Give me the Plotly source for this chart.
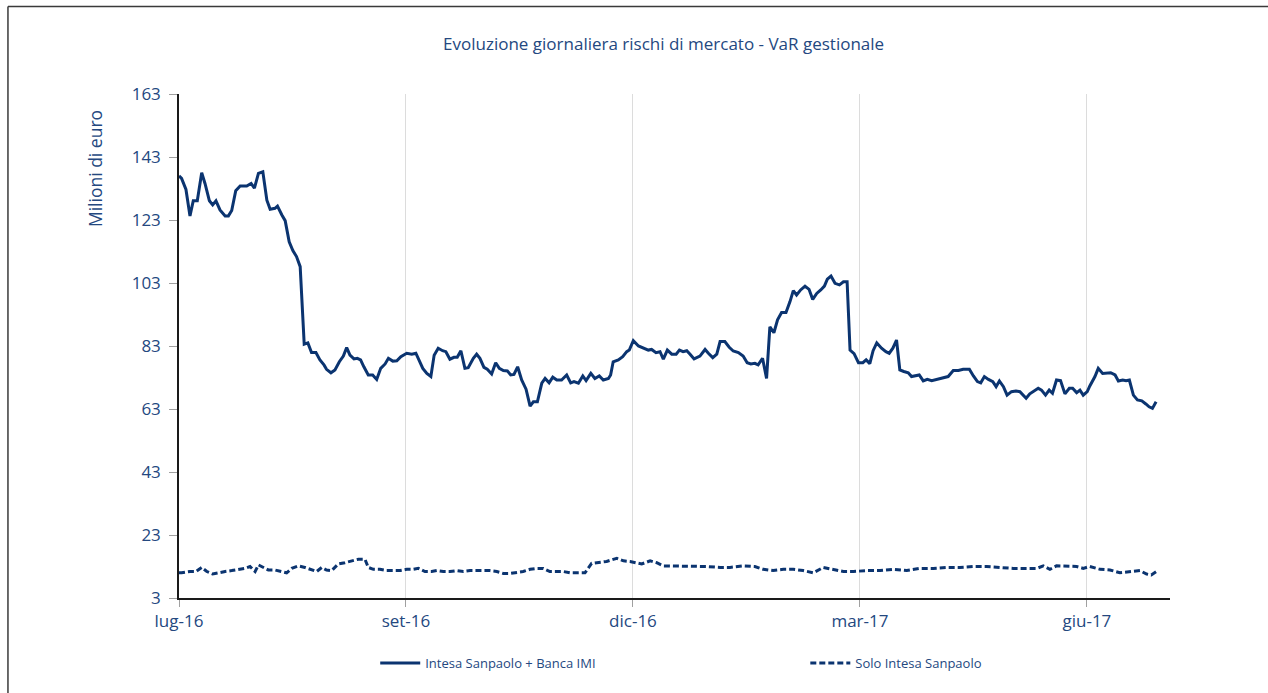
import plotly.graph_objects as go

# Category positions (trading-day index) and values
tick_idx = [0, 62, 124, 186, 248]
tick_labels = ["lug-16", "set-16", "dic-16", "mar-17", "giu-17"]
y_ticks = [3, 23, 43, 63, 83, 103, 123, 143, 163]

total_idx = [
    0.0, 0.7, 1.9, 3.0, 3.9, 5.0, 6.2, 7.1, 8.3, 9.2, 10.1, 11.2, 12.6, 13.5, 14.4, 15.5,
    16.7, 18.5, 19.7, 20.6, 21.7, 22.9, 24.0, 24.9, 26.2, 26.9, 28.1, 29.0, 30.1, 31.1,
    32.1, 33.1, 34.2, 35.2, 36.2, 37.4, 38.5, 39.6, 40.3, 41.5, 42.6, 43.8, 44.9, 45.8,
    46.7, 47.8, 48.7, 49.6, 50.5, 51.7, 52.9, 54.0, 55.1, 56.3, 57.2, 58.4, 59.5, 60.6,
    62.2, 63.6, 64.7, 66.6, 67.7, 68.8, 69.7, 70.8, 72.0, 72.9, 74.0, 75.1, 76.0, 77.0,
    78.1, 79.0, 80.4, 81.3, 82.2, 83.3, 84.2, 85.4, 86.5, 87.5, 88.6, 89.7, 90.6, 91.5,
    92.5, 93.6, 94.8, 95.9, 96.8, 97.9, 99.1, 100.0, 101.1, 102.1, 103.2, 104.5, 105.9,
    107.0, 107.9, 109.1, 110.3, 111.2, 112.5, 113.6, 114.8, 115.9, 117.3, 117.9, 118.6,
    120.0, 121.2, 122.3, 123.0, 124.1, 125.5, 126.8, 128.2, 129.1, 130.3, 131.4, 132.3,
    133.4, 134.6, 135.8, 136.7, 137.7, 138.7, 139.6, 140.7, 142.3, 143.7, 144.6, 145.8,
    146.9, 147.8, 149.1, 150.3, 151.4, 152.8, 154.1, 155.2, 156.2, 157.3, 158.2, 159.4,
    160.5, 161.4, 162.5, 163.5, 164.6, 165.8, 166.9, 167.8, 168.7, 169.8, 171.0, 172.1,
    173.1, 174.2, 175.3, 176.3, 177.1, 178.1, 179.2, 180.4, 181.5, 182.5, 183.3, 184.4,
    185.6, 186.8, 187.7, 188.7, 189.6, 190.6, 191.9, 193.1, 194.0, 195.0, 196.0, 196.9,
    198.0, 199.2, 200.1, 201.3, 202.2, 203.3, 204.4, 205.6, 206.8, 208.1, 209.2, 210.1,
    211.5, 212.9, 214.2, 215.9, 217.0, 218.1, 219.0, 220.0, 221.1, 222.3, 223.2, 224.1,
    225.2, 226.2, 227.4, 228.6, 229.7, 231.4, 232.4, 233.5, 234.7, 235.6, 236.7, 237.7,
    238.6, 239.7, 240.8, 242.0, 243.2, 244.1, 245.2, 246.1, 247.0, 248.1, 248.8, 250.2,
    251.1, 252.3, 253.4, 254.5, 255.7, 256.6, 257.8, 258.7, 259.6, 260.7, 261.8, 263.0,
    264.1, 265.0, 265.9, 266.9,
]
total_var = [
    137.0, 136.2, 132.7, 124.3, 129.1, 129.1, 138.0, 134.6, 129.1, 127.8, 129.1, 126.2,
    124.3, 124.3, 126.0, 132.3, 133.8, 133.8, 134.6, 133.1, 137.8, 138.3, 129.3, 126.4,
    126.7, 127.4, 124.6, 122.8, 116.1, 113.3, 111.4, 108.2, 83.6, 84.0, 80.9, 80.9, 78.6,
    77.0, 75.6, 74.5, 75.4, 78.0, 79.8, 82.5, 80.1, 78.9, 79.1, 78.6, 76.4, 73.8, 73.8,
    72.4, 75.9, 77.3, 79.1, 78.2, 78.3, 79.6, 80.7, 80.4, 80.7, 75.9, 74.3, 73.3, 80.1,
    82.3, 81.5, 81.2, 78.8, 79.4, 79.4, 81.5, 75.9, 76.1, 79.1, 80.4, 79.1, 76.2, 75.6,
    74.1, 77.7, 75.9, 75.2, 75.1, 73.8, 74.0, 76.4, 72.2, 69.3, 63.9, 65.3, 65.3, 71.2,
    72.7, 71.3, 73.1, 72.2, 72.2, 73.8, 71.3, 71.7, 71.2, 73.5, 72.0, 74.3, 72.7, 73.5,
    72.2, 72.7, 73.8, 78.0, 78.6, 79.6, 81.2, 81.7, 84.7, 83.0, 82.3, 81.7, 81.9, 80.9,
    81.2, 78.8, 81.7, 80.4, 80.4, 81.7, 81.2, 81.5, 80.4, 78.9, 79.8, 81.9, 80.7, 79.3,
    80.4, 84.4, 84.4, 82.6, 81.4, 80.9, 79.8, 77.7, 77.3, 77.5, 77.0, 79.1, 72.7, 89.1,
    87.2, 91.3, 93.6, 93.6, 97.1, 100.6, 99.2, 100.8, 102.0, 101.0, 97.8, 99.7, 100.8,
    102.0, 104.2, 105.2, 102.9, 102.4, 103.4, 103.4, 81.7, 80.6, 77.7, 77.7, 78.6, 77.4,
    81.5, 84.0, 82.3, 81.2, 80.7, 82.3, 84.9, 75.4, 74.9, 74.5, 73.3, 73.5, 73.8, 71.9,
    72.4, 72.0, 72.4, 72.7, 73.1, 73.3, 75.2, 75.2, 75.6, 75.6, 73.5, 71.7, 71.3, 73.3,
    72.4, 71.7, 70.1, 71.9, 70.1, 67.4, 68.5, 68.7, 68.5, 66.4, 67.8, 68.8, 69.6, 69.0,
    67.4, 69.0, 68.0, 72.2, 72.0, 67.8, 69.6, 69.6, 68.2, 69.0, 67.4, 68.5, 70.3, 73.3,
    75.9, 74.3, 74.3, 74.5, 73.8, 71.9, 72.2, 72.0, 72.2, 67.4, 65.9, 65.6, 64.6, 63.7,
    63.2, 65.3,
]

isp_idx = [
    0.0, 0.7, 3.0, 4.6, 6.2, 7.6, 9.2, 10.7, 12.6, 14.4, 16.2, 18.0, 19.4, 20.8, 21.7,
    23.0, 24.4, 26.2, 28.1, 29.4, 30.8, 32.6, 34.4, 36.2, 37.6, 39.0, 40.3, 41.7, 43.5,
    45.3, 47.2, 49.0, 50.8, 51.7, 53.1, 54.9, 56.7, 58.5, 60.4, 62.2, 64.0, 65.4, 67.2,
    69.0, 70.4, 72.2, 74.0, 75.9, 77.7, 79.5, 81.3, 83.1, 84.9, 86.8, 88.6, 90.4, 92.2,
    94.0, 95.9, 97.7, 99.5, 101.3, 103.2, 105.0, 106.8, 108.6, 110.9, 112.7, 114.5,
    116.8, 119.6, 121.4, 123.2, 125.0, 126.4, 128.7, 130.5, 132.3, 134.1, 136.0, 138.7,
    141.4, 144.1, 147.8, 150.5, 154.1, 157.3, 159.6, 162.3, 165.1, 167.8, 170.5, 173.3,
    176.0, 178.7, 181.5, 184.2, 187.8, 191.5, 195.1, 198.8, 202.4, 206.0, 209.7, 213.3,
    217.0, 220.6, 224.3, 227.9, 231.5, 234.3, 236.1, 237.9, 239.7, 242.4, 245.2, 247.0,
    248.8, 251.6, 254.3, 257.0, 259.8, 262.5, 264.3, 265.6, 267.0,
]
isp_var = [
    11.0, 11.0, 11.4, 11.4, 12.7, 11.4, 10.6, 11.0, 11.4, 11.7, 12.1, 12.4, 13.0, 11.4,
    13.5, 12.7, 11.9, 11.9, 11.4, 11.0, 12.4, 13.2, 12.7, 12.1, 11.4, 12.7, 11.9, 11.7,
    13.8, 14.2, 14.8, 15.3, 15.3, 12.7, 12.1, 12.1, 11.7, 11.7, 11.7, 12.1, 12.1, 12.4,
    11.4, 11.4, 11.7, 11.4, 11.4, 11.7, 11.4, 11.7, 11.7, 11.7, 11.7, 11.4, 10.8, 10.8,
    11.0, 11.4, 12.1, 12.4, 12.4, 11.4, 11.4, 11.4, 11.0, 11.0, 11.0, 14.0, 14.2, 14.6,
    15.6, 14.8, 14.6, 14.2, 13.8, 14.8, 14.2, 13.2, 13.2, 13.0, 13.0, 13.0, 13.0, 12.7,
    12.7, 13.2, 13.0, 12.1, 11.7, 12.1, 12.1, 11.7, 11.0, 12.7, 12.1, 11.4, 11.4, 11.7,
    11.7, 12.1, 11.7, 12.4, 12.4, 12.7, 12.7, 13.0, 13.0, 12.7, 12.4, 12.4, 12.4, 13.2,
    12.1, 13.2, 13.2, 13.0, 12.4, 13.0, 12.1, 11.9, 11.0, 11.4, 11.7, 10.6, 10.3, 11.4,
]

LINE = "#0b3470"
TEXT = "#24487f"
FONT = "Open Sans"

fig = go.Figure()
fig.add_trace(go.Scatter(
    x=total_idx, y=total_var, mode="lines", name="Intesa Sanpaolo + Banca IMI",
    line=dict(color=LINE, width=3), legend="legend",
))
fig.add_trace(go.Scatter(
    x=isp_idx, y=isp_var, mode="lines", name="Solo Intesa Sanpaolo",
    line=dict(color=LINE, width=3, dash="6px,3px"), legend="legend2",
))

leg_common = dict(orientation="h", xanchor="left", y=-0.129, yanchor="middle",
                  font=dict(size=13, color=TEXT, family=FONT),
                  itemwidth=40, bgcolor="rgba(0,0,0,0)", borderwidth=0)

fig.update_layout(
    template="none",
    width=1268, height=693,
    margin=dict(l=179, r=98, t=94, b=95, autoexpand=False),
    paper_bgcolor="white", plot_bgcolor="white",
    font=dict(family=FONT, color=TEXT),
    title=dict(text="Evoluzione giornaliera rischi di mercato - VaR gestionale",
               x=0.489, xref="paper", xanchor="center", y=0.9365, yanchor="middle",
               font=dict(size=17, color=TEXT, family=FONT)),
    showlegend=True,
    legend=dict(x=0.198, **leg_common),
    legend2=dict(x=0.632, **leg_common),
    annotations=[
        dict(text="Milioni di euro", textangle=-90, xref="paper", yref="paper",
             x=-0.0848, y=0.853, xanchor="center", yanchor="middle", showarrow=False,
             font=dict(size=17.5, color=TEXT, family=FONT)),
    ],
    shapes=[
        dict(type="line", xref="paper", yref="paper", x0=-0.1726, x1=1.2,
             y0=1.1736, y1=1.1736, line=dict(color="#3a3a3a", width=1.5)),
        dict(type="line", xref="paper", yref="paper", x0=-0.1726, x1=-0.1726,
             y0=1.1736, y1=-0.25, line=dict(color="#3a3a3a", width=1.5)),
    ],
)

fig.update_xaxes(
    range=[0, 270.7], tickmode="array", tickvals=tick_idx, ticktext=tick_labels,
    showgrid=True, gridcolor="#dcdcdc", gridwidth=1,
    showline=True, linecolor="#1a1a1a", linewidth=1.5,
    ticks="outside", ticklen=7, tickcolor="#a0a0a0", tickwidth=1,
    tickfont=dict(size=17, color=TEXT, family=FONT), zeroline=False,
    automargin=False,
)
fig.update_yaxes(
    range=[3, 163], tickmode="array", tickvals=y_ticks,
    showgrid=False, showline=True, linecolor="#1a1a1a", linewidth=1.5,
    ticks="outside", ticklen=8, tickcolor="#a0a0a0", tickwidth=1,
    tickfont=dict(size=17, color=TEXT, family=FONT), zeroline=False,
    ticklabelstandoff=5, automargin=False,
)

fig.write_html("out.html", config={"displayModeBar": False},
               post_script="document.body.style.margin='0px';")
